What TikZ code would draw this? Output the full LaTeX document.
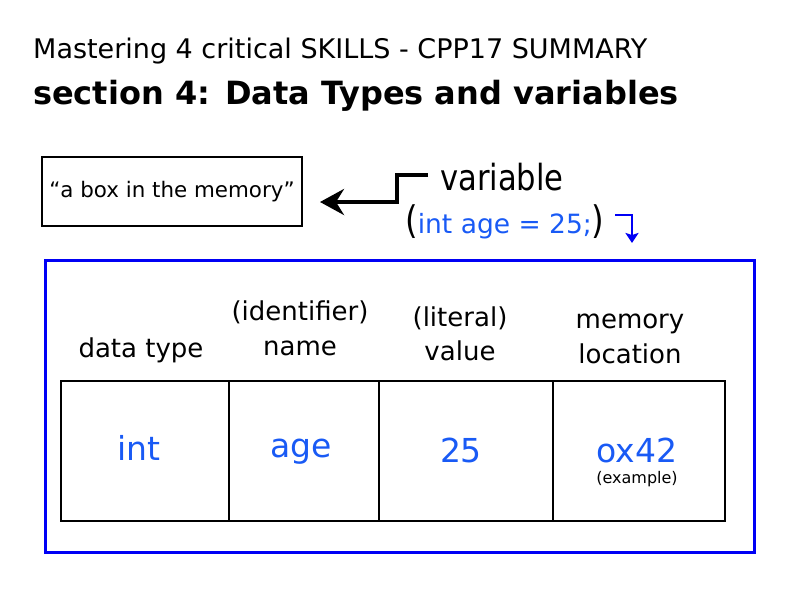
\documentclass[tikz,border=0pt]{standalone}
\usepackage{fontspec}
\setmainfont{DejaVu Sans}
\newfontfamily\narrowfont{DejaVu Sans}[FakeStretch=0.85]
\usetikzlibrary{arrows.meta}
\definecolor{codeblue}{RGB}{25,90,245}
\definecolor{frameblue}{RGB}{0,0,245}
\begin{document}
\begin{tikzpicture}[x=1pt,y=-1pt,
  txt/.style={inner sep=0pt,anchor=base},
  hdr/.style={txt,font=\fontsize{26}{30}\selectfont},
  val/.style={txt,font=\fontsize{33}{38}\selectfont,text=codeblue},
  cell/.style={draw=black,line width=2.6pt}]
\useasboundingbox (0,0) rectangle (800,600);
% titles
\node[txt,anchor=base west,font=\fontsize{27}{32}\selectfont] (t1) at (33,58) {Mastering 4 critical SKILLS - CPP17 SUMMARY};
\node[txt,anchor=base west,font=\fontsize{32}{38}\selectfont\bfseries] (t2) at (33,104) {section 4: Data Types and variables};
% box
\node[draw=black,line width=2.4pt,minimum width=260pt,minimum height=69pt,inner sep=0pt,font=\fontsize{21.4}{25}\selectfont] (box) at (172,191.5) {“a box in the memory”};
% variable
\node[txt,anchor=base west,font=\narrowfont\fontsize{36}{42}\selectfont] (var) at (440,190) {variable};
\node[txt,anchor=base west,font=\fontsize{26.5}{32}\selectfont] (code) at (405,233) {{\narrowfont\fontsize{38}{44}\selectfont(}\textcolor{codeblue}{int age = 25;}{\narrowfont\fontsize{38}{44}\selectfont)}};
\coordinate (a0) at (428,175);
\coordinate (a1) at (397,175);
\coordinate (a2) at (397,202);
\coordinate (a3) at (320,202);
\draw[line width=4pt,-{Stealth[length=24pt,width=26pt,inset=8pt]}] (a0) -- (a1) -- (a2) -- (a3);
\coordinate (b0) at (615,215);
\coordinate (b1) at (632,215);
\coordinate (b2) at (632,243);
\draw[frameblue,line width=2pt,-{Stealth[length=10pt,width=13pt,inset=2pt]}] (b0) -- (b1) -- (b2);
% frame
\draw[frameblue,line width=3pt] (45,260) rectangle (754,552);
% headers
\node[hdr] (h1) at (141,357) {data type};
\node[hdr] (h2a) at (300,320) {(identifier)};
\node[hdr] (h2b) at (300,355) {name};
\node[hdr] (h3a) at (460,326) {(literal)};
\node[hdr] (h3b) at (460,360) {value};
\node[hdr] (h4a) at (630,328) {memory};
\node[hdr] (h4b) at (630,363) {location};
% table
\draw[cell] (61,381) rectangle (725,521);
\draw[cell] (229,381) -- (229,521);
\draw[cell] (379,381) -- (379,521);
\draw[cell] (553,381) -- (553,521);
\node[val] (v1) at (139,460) {int};
\node[val] (v2) at (301,457) {age};
\node[val] (v3) at (461,462) {25};
\node[val] (v4) at (637,462) {ox42};
\node[txt,font=\fontsize{16}{19}\selectfont] (ex) at (637,483) {(example)};
\end{tikzpicture}
\end{document}
